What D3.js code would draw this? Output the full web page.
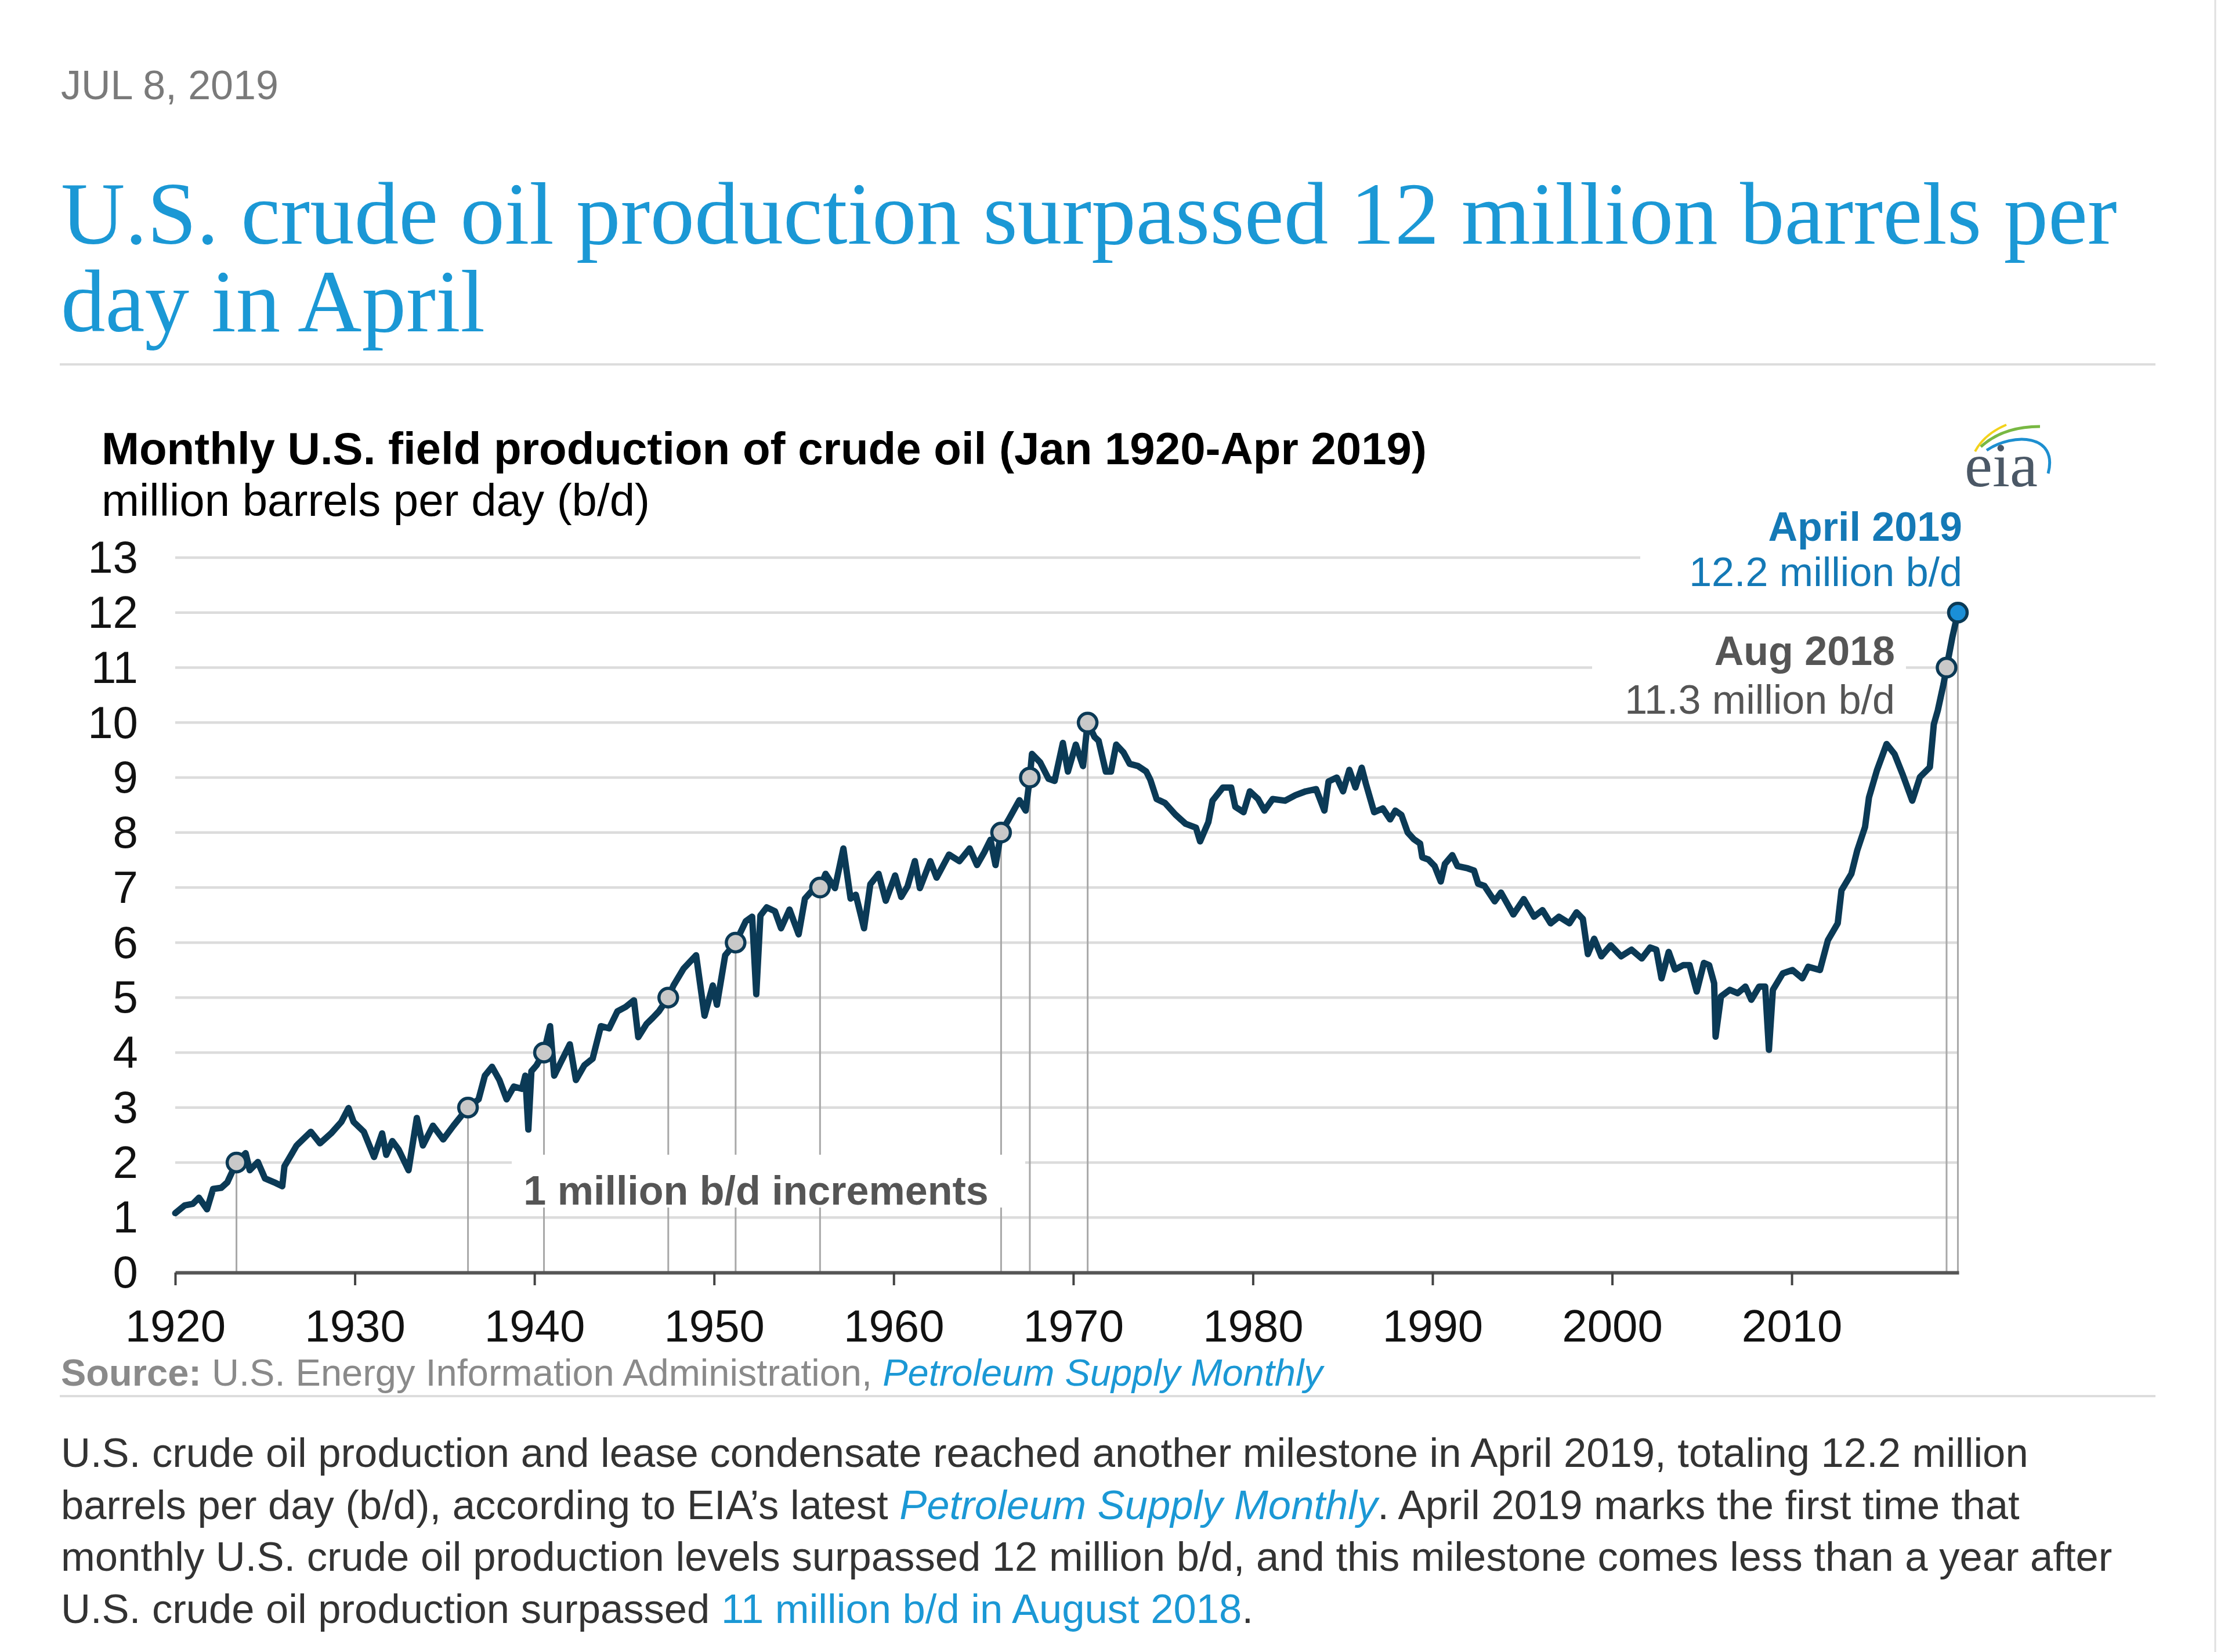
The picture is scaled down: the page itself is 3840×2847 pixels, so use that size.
<!DOCTYPE html>
<html><head><meta charset="utf-8">
<script src="https://cdn.jsdelivr.net/npm/d3@7/dist/d3.min.js"></script>
<style>html,body{margin:0;padding:0;background:#fff;} svg{display:block;}</style>
</head><body>
<svg id="chart" width="3840" height="2847"></svg>
<script>
// ---- data (decimal years, million b/d) ----
const dates = [1920.00,1920.52,1920.98,1921.32,1921.77,1922.11,1922.56,1922.90,1923.41,1923.92,1924.15,1924.60,1925.00,1925.51,1925.96,1926.08,1926.76,1927.55,1928.06,1928.68,1929.25,1929.65,1929.93,1930.50,1931.07,1931.52,1931.75,1932.09,1932.43,1932.99,1933.45,1933.79,1934.35,1934.92,1935.49,1936.30,1936.89,1937.24,1937.64,1938.05,1938.45,1938.85,1939.31,1939.49,1939.66,1939.83,1940.12,1940.53,1940.87,1941.10,1941.51,1941.97,1942.31,1942.78,1943.24,1943.70,1944.16,1944.62,1945.08,1945.54,1945.78,1946.24,1946.58,1946.93,1947.45,1947.74,1948.31,1949.00,1949.47,1949.93,1950.16,1950.62,1951.20,1951.77,1952.12,1952.35,1952.58,1952.93,1953.39,1953.73,1954.20,1954.71,1955.06,1955.47,1955.90,1956.21,1956.73,1957.20,1957.60,1957.89,1958.35,1958.70,1959.16,1959.56,1960.08,1960.42,1960.77,1961.18,1961.46,1962.04,1962.39,1963.08,1963.66,1964.23,1964.64,1965.04,1965.39,1965.67,1965.98,1966.42,1967.00,1967.35,1967.58,1967.70,1968.15,1968.62,1968.96,1969.42,1969.70,1970.14,1970.54,1970.80,1971.18,1971.41,1971.81,1972.10,1972.39,1972.79,1973.14,1973.60,1974.06,1974.29,1974.64,1975.10,1975.68,1976.25,1976.83,1977.06,1977.52,1977.75,1978.33,1978.79,1979.02,1979.48,1979.83,1980.29,1980.64,1981.10,1981.79,1982.37,1982.94,1983.52,1983.98,1984.21,1984.67,1985.02,1985.37,1985.71,1986.06,1986.29,1986.75,1987.23,1987.64,1987.93,1988.27,1988.62,1988.96,1989.31,1989.43,1989.77,1990.12,1990.46,1990.69,1991.10,1991.39,1991.96,1992.31,1992.54,1992.89,1993.46,1993.81,1994.50,1995.08,1995.65,1996.12,1996.58,1997.04,1997.62,1998.02,1998.37,1998.65,1999.00,1999.40,1999.92,2000.50,2001.08,2001.65,2002.12,2002.46,2002.75,2003.15,2003.50,2003.96,2004.31,2004.71,2005.11,2005.40,2005.68,2005.76,2006.06,2006.55,2006.99,2007.42,2007.75,2008.19,2008.52,2008.73,2008.95,2009.50,2010.04,2010.59,2010.92,2011.57,2012.01,2012.56,2012.77,2013.32,2013.65,2014.08,2014.30,2014.74,2015.28,2015.72,2016.16,2016.71,2017.14,2017.69,2017.91,2018.13,2018.45,2018.62,2018.94,2019.25];
const values = [1.08,1.22,1.25,1.36,1.15,1.52,1.54,1.64,2.00,2.17,1.86,2.01,1.71,1.64,1.57,1.93,2.31,2.56,2.35,2.53,2.74,2.99,2.74,2.56,2.10,2.53,2.14,2.39,2.24,1.86,2.81,2.31,2.67,2.42,2.67,3.00,3.15,3.58,3.74,3.50,3.15,3.38,3.34,3.58,2.60,3.66,3.77,4.01,4.48,3.58,3.85,4.15,3.50,3.77,3.89,4.48,4.44,4.75,4.83,4.95,4.28,4.52,4.63,4.75,5.00,5.22,5.53,5.77,4.67,5.22,4.87,5.77,6.00,6.39,6.47,5.06,6.49,6.64,6.57,6.26,6.60,6.15,6.80,6.95,7.00,7.25,6.99,7.71,6.80,6.87,6.26,7.06,7.25,6.76,7.22,6.83,7.02,7.48,6.99,7.48,7.18,7.60,7.48,7.71,7.41,7.64,7.87,7.41,8.00,8.25,8.59,8.40,9.00,9.43,9.28,8.98,8.94,9.63,9.11,9.60,9.21,10.00,9.74,9.67,9.11,9.11,9.60,9.46,9.25,9.21,9.11,8.96,8.61,8.54,8.33,8.16,8.09,7.84,8.19,8.58,8.82,8.82,8.47,8.37,8.75,8.61,8.40,8.61,8.58,8.68,8.75,8.79,8.40,8.93,9.00,8.75,9.14,8.82,9.18,8.89,8.37,8.44,8.24,8.40,8.32,8.00,7.88,7.80,7.55,7.51,7.39,7.11,7.43,7.59,7.39,7.35,7.31,7.07,7.03,6.75,6.91,6.51,6.79,6.47,6.59,6.35,6.47,6.35,6.55,6.43,5.79,6.07,5.75,5.95,5.75,5.87,5.71,5.91,5.87,5.35,5.83,5.51,5.59,5.59,5.11,5.63,5.59,5.26,4.29,5.02,5.14,5.08,5.20,4.96,5.20,5.20,4.05,5.14,5.44,5.50,5.35,5.56,5.50,6.04,6.35,6.95,7.25,7.68,8.10,8.64,9.13,9.61,9.43,9.07,8.58,9.01,9.19,9.97,10.22,10.70,11.00,11.55,12.00];
const milestoneValues = [2,3,4,5,6,7,8,9,10,11,12];
const milestoneDates = [1923.41,1936.30,1940.53,1947.45,1951.20,1955.90,1965.98,1967.58,1970.80,2018.62,2019.25];
const xTickValues = [1920,1930,1940,1950,1960,1970,1980,1990,2000,2010];
const yTickValues = [0,1,2,3,4,5,6,7,8,9,10,11,12,13];

// ---- drawing ----
const SANS = "'Liberation Sans', Arial, Helvetica, sans-serif";
const SERIF = "'Liberation Serif', 'Times New Roman', serif";
const svg = d3.select("#chart");
svg.append("rect").attr("width",3840).attr("height",2847).attr("fill","#fff");
svg.append("line").attr("x1",3818).attr("x2",3818).attr("y1",0).attr("y2",2847)
  .attr("stroke","#e0e0e0").attr("stroke-width",3);

svg.append("text").attr("x",105).attr("y",171).attr("font-family",SANS)
  .attr("font-size",70).attr("fill","#7a7a7a").text("JUL 8, 2019");

const titleLines = ["U.S. crude oil production surpassed 12 million barrels per","day in April"];
svg.selectAll("text.title").data(titleLines).join("text").attr("class","title")
  .attr("x",105).attr("y",(d,i)=>420+i*151).attr("font-family",SERIF)
  .attr("font-size",153).attr("fill","#1b98d5").text(d=>d);

svg.append("rect").attr("x",103).attr("y",626).attr("width",3612).attr("height",4).attr("fill","#dddddd");

svg.append("text").attr("x",175).attr("y",800).attr("font-family",SANS).attr("font-weight","bold")
  .attr("font-size",78).attr("fill","#000").text("Monthly U.S. field production of crude oil (Jan 1920-Apr 2019)");
svg.append("text").attr("x",175).attr("y",889).attr("font-family",SANS)
  .attr("font-size",78).attr("fill","#000").text("million barrels per day (b/d)");

const x = d3.scaleLinear().domain([1920, 2019.3]).range([302, 3376]);
const y = d3.scaleLinear().domain([0, 13]).range([2193, 961]);

// gridlines
svg.append("g").selectAll("line").data(yTickValues.filter(v=>v>0)).join("line")
  .attr("x1",302).attr("x2",3373).attr("y1",d=>y(d)).attr("y2",d=>y(d))
  .attr("stroke","#dcdcdc").attr("stroke-width",4.5);

// y axis labels
const yAxis = svg.append("g").attr("transform","translate(302,0)")
  .call(d3.axisLeft(y).tickValues(yTickValues).tickSize(0).tickPadding(64));
yAxis.select(".domain").remove();
yAxis.selectAll("text").attr("font-family",SANS).attr("font-size",78).attr("fill","#111").attr("dy","0.33em");

// milestone drop lines
const ms = milestoneDates.map((d,i)=>({date:d, value:milestoneValues[i]}));
svg.append("g").selectAll("line").data(ms).join("line")
  .attr("x1",d=>x(d.date)).attr("x2",d=>x(d.date)).attr("y1",d=>y(d.value)).attr("y2",y(0))
  .attr("stroke","#a8a8a8").attr("stroke-width",3);

// white boxes behind annotations
svg.append("rect").attr("x",882).attr("y",1990).attr("width",885).attr("height",91).attr("fill","#fff");
svg.append("rect").attr("x",2827).attr("y",870).attr("width",580).attr("height",160).attr("fill","#fff");
svg.append("rect").attr("x",2744).attr("y",1092).attr("width",541).attr("height",148).attr("fill","#fff");

svg.append("text").attr("x",1303).attr("y",2076).attr("text-anchor","middle").attr("font-family",SANS)
  .attr("font-weight","bold").attr("font-size",70).attr("fill","#555").text("1 million b/d increments");

// annotations
svg.append("text").attr("x",3382).attr("y",932).attr("text-anchor","end").attr("font-family",SANS)
  .attr("font-weight","bold").attr("font-size",70).attr("fill","#1479b6").text("April 2019");
svg.append("text").attr("x",3382).attr("y",1010).attr("text-anchor","end").attr("font-family",SANS)
  .attr("font-size",70).attr("fill","#1479b6").text("12.2 million b/d");
svg.append("text").attr("x",3266).attr("y",1146).attr("text-anchor","end").attr("font-family",SANS)
  .attr("font-weight","bold").attr("font-size",70).attr("fill","#555").text("Aug 2018");
svg.append("text").attr("x",3266).attr("y",1230).attr("text-anchor","end").attr("font-family",SANS)
  .attr("font-size",70).attr("fill","#555").text("11.3 million b/d");

// x axis
const xAxis = svg.append("g").attr("transform",`translate(0,${y(0)})`)
  .call(d3.axisBottom(x).tickValues(xTickValues).tickFormat(d3.format("d")).tickSize(22).tickSizeOuter(0));
xAxis.select(".domain").attr("stroke","#555").attr("stroke-width",6);
xAxis.selectAll(".tick line").attr("stroke","#444").attr("stroke-width",4);
xAxis.selectAll("text").attr("font-family",SANS).attr("font-size",78).attr("fill","#111")
  .attr("y",119).attr("dy",0);

// series line
const series = dates.map((d,i)=>({date:d, value:values[i]}));
svg.append("path").datum(series)
  .attr("d", d3.line().x(d=>x(d.date)).y(d=>y(d.value)))
  .attr("fill","none").attr("stroke","#0b3a56").attr("stroke-width",11)
  .attr("stroke-linejoin","round").attr("stroke-linecap","round");

// markers
svg.append("g").selectAll("circle").data(ms).join("circle")
  .attr("cx",d=>x(d.date)).attr("cy",d=>y(d.value)).attr("r",16)
  .attr("fill",(d,i)=>i===ms.length-1?"#1a8fd8":"#c9c9c9")
  .attr("stroke","#0b3a56").attr("stroke-width",5.5);

// eia logo
const logo = svg.append("g");
logo.append("path").attr("d","M3404,778 Q3420,748 3458,732").attr("fill","none").attr("stroke","#f3d21b").attr("stroke-width",4);
logo.append("path").attr("d","M3414,770 Q3452,735 3516,735").attr("fill","none").attr("stroke","#78b843").attr("stroke-width",5);
logo.append("path").attr("d","M3424,776 C3470,745 3548,748 3530,816").attr("fill","none").attr("stroke","#1d8fd0").attr("stroke-width",5);
logo.append("text").attr("x",3386).attr("y",838).attr("font-family",SERIF).attr("font-size",108)
  .attr("fill","#4b5866").text("eia");

// source line
const src = svg.append("text").attr("x",105).attr("y",2388).attr("font-family",SANS).attr("font-size",65).attr("fill","#8a8a8a");
src.append("tspan").attr("font-weight","bold").text("Source:");
src.append("tspan").text(" U.S. Energy Information Administration, ");
src.append("tspan").attr("font-style","italic").attr("fill","#1b98d5").text("Petroleum Supply Monthly");
svg.append("rect").attr("x",103).attr("y",2404).attr("width",3612).attr("height",4).attr("fill","#dddddd");

// paragraph
const para = [
  [["U.S. crude oil production and lease condensate reached another milestone in April 2019, totaling 12.2 million",0]],
  [["barrels per day (b/d), according to EIA\u2019s latest ",0],["Petroleum Supply Monthly",2],[". April 2019 marks the first time that",0]],
  [["monthly U.S. crude oil production levels surpassed 12 million b/d, and this milestone comes less than a year after",0]],
  [["U.S. crude oil production surpassed ",0],["11 million b/d in August 2018",1],[".",0]]
];
para.forEach((parts,i)=>{
  const t = svg.append("text").attr("x",105).attr("y",2528+i*89.5).attr("font-family",SANS).attr("font-size",70.6).attr("fill","#333");
  parts.forEach(p=>{
    const s = t.append("tspan").text(p[0]);
    if(p[1]>0) s.attr("fill","#1b98d5");
    if(p[1]===2) s.attr("font-style","italic");
  });
});
</script>
</body></html>
